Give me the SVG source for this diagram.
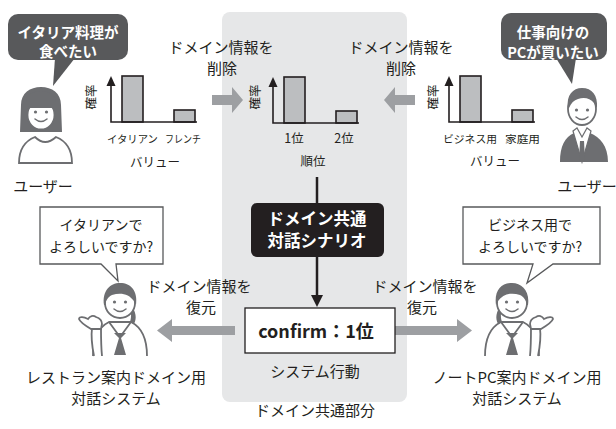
<svg xmlns="http://www.w3.org/2000/svg" xmlns:xlink="http://www.w3.org/1999/xlink" width="616" height="429" viewBox="0 0 616 429">
  <style>
    text { font-family: "Noto Sans CJK JP", "Noto Sans", sans-serif; fill: #231f20; text-anchor: middle; }
    .lbl { font-size: 15px; }
    .sm { font-size: 10.5px; }
    .ax { font-size: 12.5px; }
    .wb { fill: #ffffff; font-weight: bold; }
    .hair { fill: #6d6e71; }
    .skin { fill: #ffffff; stroke: #6d6e71; stroke-width: 1.8; }
    .feat { fill: #6d6e71; }
    .smile { fill: none; stroke: #6d6e71; stroke-width: 1.5; stroke-linecap: round; }
    .bar { fill: #bcbec0; stroke: #231f20; stroke-width: 1.6; }
    .axis { fill: none; stroke: #231f20; stroke-width: 1.6; }
    .garrow { fill: #9d9fa2; }
    .say { fill: #ffffff; stroke: #58595b; stroke-width: 1.3; }
  </style>
  <defs>
    <!-- probability chart: origin at the foot of the y axis -->
    <g id="chart">
      <rect class="bar" x="11" y="-46" width="21" height="46"/>
      <rect class="bar" x="63" y="-12" width="21" height="12"/>
      <path class="axis" d="M0,-37 V0 H86"/>
      <path d="M0,-46 L-4.5,-36 L4.5,-36 Z" fill="#231f20"/>
    </g>
    <!-- dialogue-system clerk with raised open hand on the left -->
    <g id="clerk">
      <path class="skin" d="M93,356 C93,338 99,327 109,322 L131,322 C141,327 147,338 147,356"/>
      <path fill="none" stroke="#6d6e71" stroke-width="1.8" d="M109,322 L120,337 L131,322"/>
      <path class="hair" d="M114,333 L126,333 L121,338 L126,355 L114,355 L119,338 Z"/>
      <path class="skin" d="M94,356 C92,346 91,336 92,328 L101,328 C101,336 101,346 102,356"/>
      <path class="skin" d="M91,329 C86,326 80,322 79,319 C79,316 84,317 88,319 C90,316 93,315 96,317 C99,318 102,320 102,324 L101,329 Z"/>
      <path class="hair" d="M131,305 C136,312 137,318 134,324 L130,322 C132,316 131,311 129,306 Z"/>
      <ellipse class="skin" cx="120" cy="303" rx="15" ry="15"/>
      <path class="hair" d="M104,305 C102,291 110,283 120,283 C131,283 138,291 136,305 L134,301 C129,294 121,292 112,295 C108,297 106,300 105,305 Z"/>
      <circle class="feat" cx="114.5" cy="302" r="1.6"/>
      <circle class="feat" cx="125.5" cy="302" r="1.6"/>
      <path class="smile" d="M114,309 Q120,314 126,309"/>
    </g>
  </defs>

  <!-- shared-domain panel -->
  <g id="shared-panel">
    <rect x="222" y="12" width="185" height="390" rx="8" fill="#e6e7e8"/>
    <text class="lbl" x="315" y="416">ドメイン共通部分</text>
  </g>

  <!-- connectors -->
  <g id="connectors">
    <path class="garrow" d="M212,95 H232 V87 L243,100 L232,113 V105 H212 Z"/>
    <path class="garrow" d="M415,95 H395 V87 L384,100 L395,113 V105 H415 Z"/>
    <path class="garrow" d="M235,326 H172 V319 L157,330.5 L172,342 V335 H235 Z"/>
    <path class="garrow" d="M393,326 H457 V319 L472,330.5 L457,342 V335 H393 Z"/>
    <line x1="317" y1="177" x2="317" y2="203" stroke="#231f20" stroke-width="2.5"/>
    <line x1="317" y1="257" x2="317" y2="297" stroke="#231f20" stroke-width="2.5"/>
    <path d="M311,295 L323,295 L317,307 Z" fill="#231f20"/>
    <text class="lbl" x="221" y="53">ドメイン情報を</text>
    <text class="lbl" x="222" y="74">削除</text>
    <text class="lbl" x="401" y="53">ドメイン情報を</text>
    <text class="lbl" x="401" y="74">削除</text>
    <text class="lbl" x="199" y="292">ドメイン情報を</text>
    <text class="lbl" x="201" y="313">復元</text>
    <text class="lbl" x="425" y="292">ドメイン情報を</text>
    <text class="lbl" x="422" y="313">復元</text>
  </g>

  <!-- left user and request -->
  <g id="user-left">
    <rect x="8" y="14" width="120" height="46" rx="10" fill="#58595b"/>
    <path d="M55,58 L75,58 L53,86 Z" fill="#58595b"/>
    <text class="wb" x="68" y="38" font-size="14.5">イタリア料理が</text>
    <text class="wb" x="68" y="57" font-size="14.5">食べたい</text>
    <path class="hair" d="M20,132 L21,105 C21,93 30,87 41,87 C52,87 61,93 61,105 L62,132 Z"/>
    <path class="skin" d="M19,163 C19,149 25,141 35,137 Q45,147 56,137 C66,141 72,149 72,163 Z"/>
    <ellipse class="skin" cx="41" cy="115" rx="13.5" ry="14.5"/>
    <path class="hair" d="M26,108 L56,108 L56,102 C56,95 49,91 41,91 C33,91 26,95 26,102 Z"/>
    <circle class="feat" cx="35.5" cy="112" r="1.6"/>
    <circle class="feat" cx="46.5" cy="112" r="1.6"/>
    <path class="smile" d="M35,119 Q41,124 47,119"/>
    <text class="lbl" x="43" y="192">ユーザー</text>
  </g>

  <!-- right user and request -->
  <g id="user-right">
    <rect x="501" y="13" width="106" height="47" rx="10" fill="#58595b"/>
    <path d="M556,58 L576,58 L572,84 Z" fill="#58595b"/>
    <text class="wb" x="553" y="38" font-size="14.5">仕事向けの</text>
    <text class="wb" x="553" y="58" font-size="14.5">PCが買いたい</text>
    <path class="hair" d="M560,162 C560,146 565,137 574,133 L582,138 L590,133 C600,137 608,146 608,162 Z"/>
    <path d="M573,131 L582,162 L591,131 L587,128 L582,137 L577,128 Z" fill="#ffffff" stroke="#6d6e71" stroke-width="1.2"/>
    <path d="M580,141 L584,141 L585,160 L582,162 L579,160 Z" fill="#6d6e71"/>
    <ellipse class="skin" cx="582" cy="109" rx="14" ry="16"/>
    <path class="hair" d="M568,108 C566,95 573,88 582,88 C592,88 598,95 597,108 L594,103 C590,98 584,97 578,99 C574,100 571,103 569,108 Z"/>
    <circle class="feat" cx="576.5" cy="110" r="1.6"/>
    <circle class="feat" cx="587.5" cy="110" r="1.6"/>
    <path class="smile" d="M576,117 Q582,122 588,117"/>
    <text class="lbl" x="587" y="192">ユーザー</text>
  </g>

  <!-- value distributions -->
  <g id="chart-left">
    <use xlink:href="#chart" transform="translate(111,122)"/>
    <text class="ax" transform="translate(96,97) rotate(-90)">確率</text>
    <text class="sm" x="132.5" y="143" textLength="51" lengthAdjust="spacingAndGlyphs">イタリアン</text>
    <text class="sm" x="183" y="143" textLength="36" lengthAdjust="spacingAndGlyphs">フレンチ</text>
    <text class="ax" x="155" y="167">バリュー</text>
  </g>
  <g id="chart-middle">
    <use xlink:href="#chart" transform="translate(273,123)"/>
    <text class="ax" transform="translate(260,97) rotate(-90)">確率</text>
    <text class="ax" x="294" y="143">1位</text>
    <text class="ax" x="344" y="143">2位</text>
    <text class="ax" x="313" y="166">順位</text>
  </g>
  <g id="chart-right">
    <use xlink:href="#chart" transform="translate(449,122)"/>
    <text class="ax" transform="translate(438,97) rotate(-90)">確率</text>
    <text class="sm" x="470" y="143" textLength="54" lengthAdjust="spacingAndGlyphs">ビジネス用</text>
    <text class="sm" x="522.5" y="143" textLength="35" lengthAdjust="spacingAndGlyphs">家庭用</text>
    <text class="ax" x="495" y="166">バリュー</text>
  </g>

  <!-- shared dialogue scenario -->
  <g id="scenario">
    <rect x="251" y="203" width="133" height="54" rx="6" fill="#231f20"/>
    <text class="wb" x="317" y="225" font-size="16.5">ドメイン共通</text>
    <text class="wb" x="317" y="247" font-size="16.5">対話シナリオ</text>
  </g>

  <!-- system action -->
  <g id="system-action">
    <rect x="245" y="308" width="150" height="45" fill="#ffffff" stroke="#231f20" stroke-width="1.3"/>
    <text x="316" y="338" font-size="18" font-weight="bold">confirm：1位</text>
    <text class="lbl" x="315" y="377">システム行動</text>
  </g>

  <!-- restaurant-guide dialogue system -->
  <g id="system-left">
    <path class="say" d="M40,207 H163 V264 H116 L118,281 L101,264 H40 Z"/>
    <text x="101" y="230" font-size="14">イタリアンで</text>
    <text x="101" y="252" font-size="14">よろしいですか?</text>
    <use xlink:href="#clerk"/>
    <text class="lbl" x="116" y="383">レストラン案内ドメイン用</text>
    <text class="lbl" x="116" y="404">対話システム</text>
  </g>

  <!-- laptop-guide dialogue system -->
  <g id="system-right">
    <path class="say" d="M463,207 H600 V264 H553 L527,283 L533,264 H463 Z"/>
    <text x="530" y="230" font-size="14">ビジネス用で</text>
    <text x="530" y="252" font-size="14">よろしいですか?</text>
    <use xlink:href="#clerk" transform="matrix(-1 0 0 1 632 0)"/>
    <text class="lbl" x="517" y="383">ノートPC案内ドメイン用</text>
    <text class="lbl" x="517" y="404">対話システム</text>
  </g>
</svg>
